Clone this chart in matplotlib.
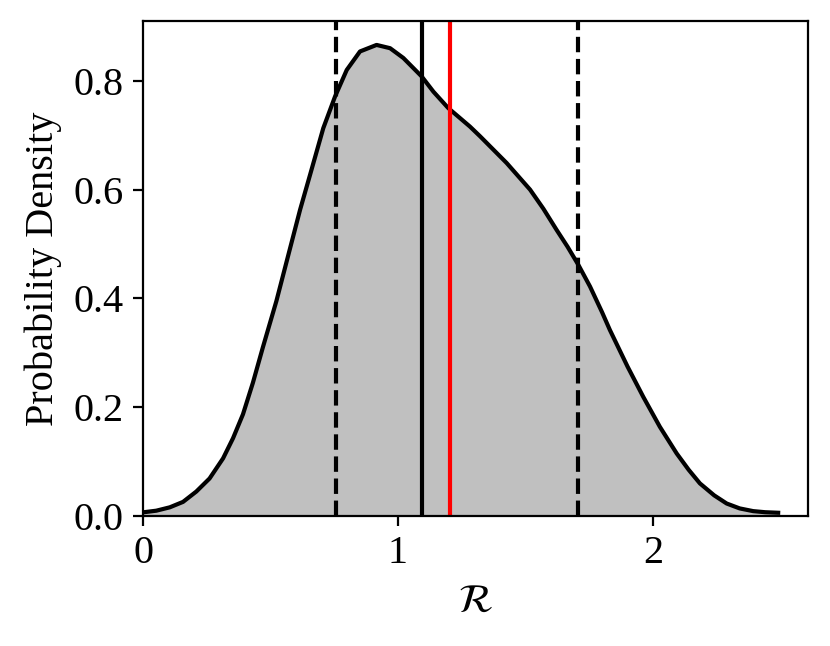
import matplotlib
matplotlib.use("Agg")
import matplotlib.pyplot as plt

plt.rcParams['font.family'] = ['Liberation Serif', 'DejaVu Serif']
plt.rcParams['mathtext.fontset'] = 'stix'

# KDE curve
r_values = [0.0, 0.052, 0.105, 0.157, 0.209, 0.261, 0.314, 0.353, 0.392, 0.431,
            0.470, 0.523, 0.570, 0.616, 0.655, 0.707, 0.753, 0.799, 0.851, 0.916,
            0.969, 1.021, 1.093, 1.139, 1.197, 1.282, 1.322, 1.426, 1.518, 1.570,
            1.622, 1.665, 1.707, 1.753, 1.800, 1.831, 1.900, 1.962, 2.027, 2.093,
            2.140, 2.184, 2.240, 2.289, 2.340, 2.393, 2.440, 2.491]
density = [0.0068, 0.0098, 0.016, 0.026, 0.045, 0.069, 0.106, 0.143, 0.187, 0.245,
           0.310, 0.395, 0.480, 0.563, 0.627, 0.713, 0.771, 0.820, 0.854, 0.866,
           0.860, 0.842, 0.808, 0.780, 0.750, 0.716, 0.698, 0.649, 0.600, 0.565,
           0.526, 0.495, 0.462, 0.422, 0.375, 0.342, 0.275, 0.219, 0.164, 0.115,
           0.085, 0.060, 0.038, 0.023, 0.014, 0.009, 0.007, 0.006]

ci_low = 0.757
median = 1.094
true_value = 1.204
ci_high = 1.706

fig = plt.figure(figsize=(8.3, 6.46), dpi=100)
ax = fig.add_axes([0.1723, 0.2012, 0.8012, 0.7663])

ax.fill_between(r_values, 0, density, color='#c0c0c0', linewidth=0)
ax.plot(r_values, density, color='black', lw=3, solid_joinstyle='round')
ax.axvline(ci_low, color='black', ls='--', lw=3)
ax.axvline(ci_high, color='black', ls='--', lw=3)
ax.axvline(median, color='black', lw=3)
ax.axvline(true_value, color='red', lw=3)

ax.set_xlim(0, 2.608)
ax.set_ylim(0, 0.91)
ax.set_xticks([0, 1, 2])
ax.set_xticklabels(['0', '1', '2'])
ax.set_yticks([0.0, 0.2, 0.4, 0.6, 0.8])
ax.set_yticklabels(['0.0', '0.2', '0.4', '0.6', '0.8'])
ax.tick_params(labelsize=29, length=7, width=1.6, pad=7)
for s in ax.spines.values():
    s.set_linewidth(1.6)
ax.set_xlabel(r'$\mathcal{R}$', fontsize=29, labelpad=8)
ax.set_ylabel('Probability Density', fontsize=29, labelpad=8)

fig.savefig('out.png', dpi=100)
